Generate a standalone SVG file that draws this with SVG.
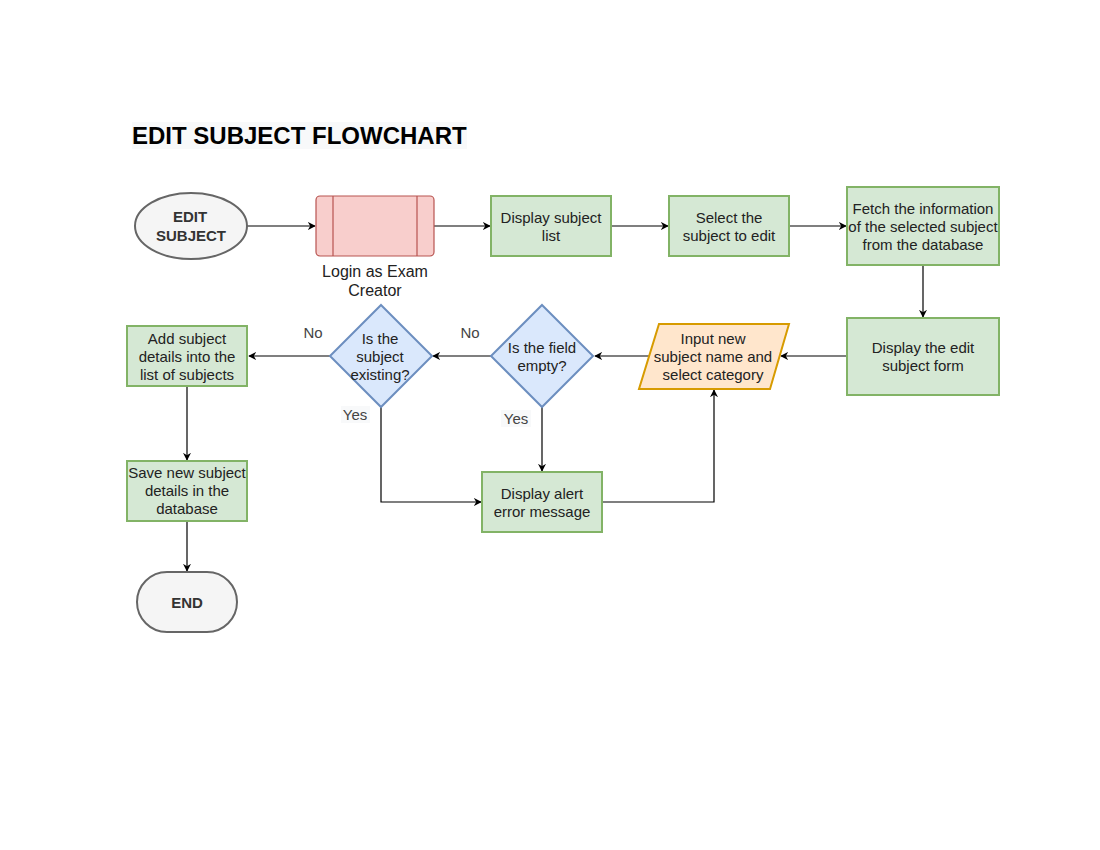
<svg xmlns="http://www.w3.org/2000/svg" width="1100" height="850" viewBox="0 0 1100 850">
<defs>
<style>
text{font-family:"Liberation Sans",Arial,sans-serif;font-size:15px;fill:#222;text-anchor:middle}
.g{fill:#d5e8d4;stroke:#82b366;stroke-width:2}
.d{fill:#dae8fc;stroke:#6c8ebf;stroke-width:2}
.t{fill:#f5f5f5;stroke:#666;stroke-width:2}
.e{stroke:#000;stroke-width:1.2;fill:none;marker-end:url(#a)}
.b{font-weight:bold;fill:#333}
.lbl{fill:#444}
</style>
<marker id="a" viewBox="0 0 10 10" refX="9" refY="5" markerWidth="8" markerHeight="8" markerUnits="userSpaceOnUse" orient="auto"><path d="M0,0 L10,5 L0,10 L3,5 Z" fill="#000"/></marker>
</defs>
<rect width="1100" height="850" fill="#fff"/>
<g id="title">
<rect x="132" y="122" width="335" height="27" fill="#f8f9fa"/>
<text x="132" y="144" style="font-size:24px;font-weight:bold;text-anchor:start;fill:#000">EDIT SUBJECT FLOWCHART</text>
</g>
<g id="connectors">
<path class="e" d="M247,226 H315"/>
<path class="e" d="M434,226 H490"/>
<path class="e" d="M611,226 H668"/>
<path class="e" d="M789,226 H846"/>
<path class="e" d="M923,265 V317"/>
<path class="e" d="M847,356 H781"/>
<path class="e" d="M649,356 H595"/>
<path class="e" d="M491,356 H433"/>
<path class="e" d="M330,356 H249"/>
<path class="e" d="M187,386 V460"/>
<path class="e" d="M187,521 V571"/>
<path class="e" d="M542,407 V471"/>
<path class="e" d="M381,407 V502 H481"/>
<path class="e" d="M602,502 H714 V390"/>
<text class="lbl" x="313" y="338">No</text>
<text class="lbl" x="470" y="338">No</text>
<rect x="341" y="406" width="29" height="17" fill="#f8f9fa"/>
<text class="lbl" x="355" y="420">Yes</text>
<rect x="501" y="410" width="30" height="17" fill="#f8f9fa"/>
<text class="lbl" x="516" y="424">Yes</text>
</g>
<g id="start">
<ellipse class="t" cx="191" cy="226" rx="56" ry="33"/>
<text class="b" x="190" y="222">EDIT</text>
<text class="b" x="191" y="241">SUBJECT</text>
</g>
<g id="login">
<rect x="316" y="196" width="118" height="60" rx="4" fill="#f8cecc" stroke="#b85450" stroke-width="1.2"/>
<path d="M333,196 V256 M417,196 V256" stroke="#b85450" stroke-width="1.2"/>
<text x="375" y="277" style="font-size:16px">Login as Exam</text>
<text x="375" y="296" style="font-size:16px">Creator</text>
</g>
<g id="display-list">
<rect class="g" x="491" y="196" width="120" height="60"/>
<text x="551" y="223">Display subject</text>
<text x="551" y="241">list</text>
</g>
<g id="select">
<rect class="g" x="669" y="196" width="120" height="60"/>
<text x="729" y="223">Select the</text>
<text x="729" y="241">subject to edit</text>
</g>
<g id="fetch">
<rect class="g" x="847" y="187" width="152" height="78"/>
<text x="923" y="214">Fetch the information</text>
<text x="923" y="232">of the selected subject</text>
<text x="923" y="250">from the database</text>
</g>
<g id="edit-form">
<rect class="g" x="847" y="318" width="152" height="77"/>
<text x="923" y="353">Display the edit</text>
<text x="923" y="371">subject form</text>
</g>
<g id="input">
<polygon points="659,324 789,324 770,389 639,389" fill="#ffe6cc" stroke="#d79b00" stroke-width="2"/>
<text x="713" y="344">Input new</text>
<text x="713" y="362">subject name and</text>
<text x="713" y="380">select category</text>
</g>
<g id="field-empty">
<polygon class="d" points="542,305 593,356 542,407 491,356"/>
<text x="542" y="353">Is the field</text>
<text x="542" y="371">empty?</text>
</g>
<g id="subject-existing">
<polygon class="d" points="381,305 432,356 381,407 330,356"/>
<text x="380" y="344">Is the</text>
<text x="380" y="362">subject</text>
<text x="380" y="380">existing?</text>
</g>
<g id="add">
<rect class="g" x="127" y="326" width="120" height="60"/>
<text x="187" y="344">Add subject</text>
<text x="187" y="362">details into the</text>
<text x="187" y="380">list of subjects</text>
</g>
<g id="save">
<rect class="g" x="127" y="461" width="120" height="60"/>
<text x="187" y="478">Save new subject</text>
<text x="187" y="496">details in the</text>
<text x="187" y="514">database</text>
</g>
<g id="alert">
<rect class="g" x="482" y="472" width="120" height="60"/>
<text x="542" y="499">Display alert</text>
<text x="542" y="517">error message</text>
</g>
<g id="end">
<rect class="t" x="137" y="572" width="100" height="60" rx="30"/>
<text class="b" x="187" y="608">END</text>
</g>
</svg>
